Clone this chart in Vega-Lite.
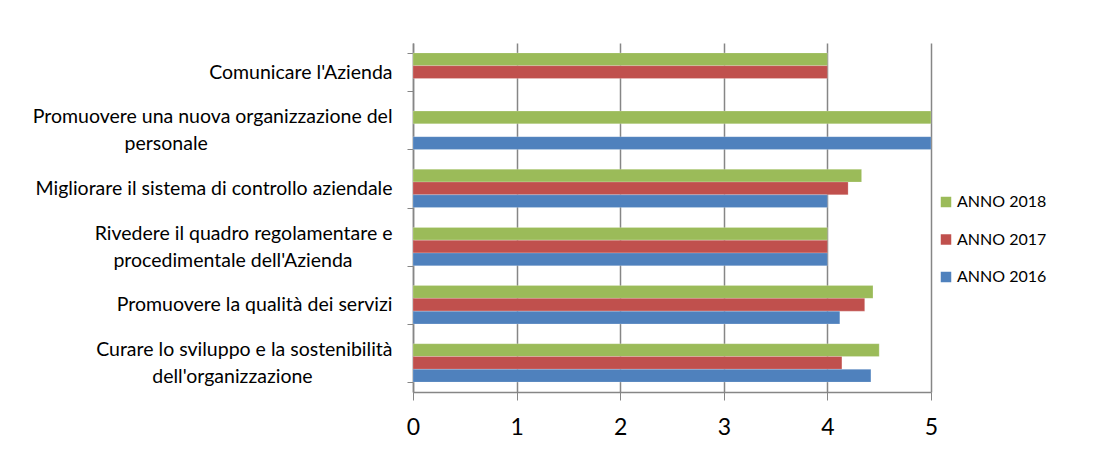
{
  "$schema": "https://vega.github.io/schema/vega-lite/v6.json",
  "autosize": "none",
  "width": 518,
  "height": 349,
  "padding": {"left": 413, "top": 43, "right": 165, "bottom": 57},
  "background": "white",
  "data": {
    "values": [
      {"cat": "Comunicare l'Azienda", "serie": "ANNO 2018", "v": 4},
      {"cat": "Comunicare l'Azienda", "serie": "ANNO 2017", "v": 4},
      {"cat": "Promuovere una nuova organizzazione del|personale", "serie": "ANNO 2018", "v": 5},
      {"cat": "Promuovere una nuova organizzazione del|personale", "serie": "ANNO 2016", "v": 5},
      {"cat": "Migliorare il sistema di controllo aziendale", "serie": "ANNO 2018", "v": 4.33},
      {"cat": "Migliorare il sistema di controllo aziendale", "serie": "ANNO 2017", "v": 4.2},
      {"cat": "Migliorare il sistema di controllo aziendale", "serie": "ANNO 2016", "v": 4},
      {"cat": "Rivedere il quadro regolamentare e|procedimentale dell'Azienda", "serie": "ANNO 2018", "v": 4},
      {"cat": "Rivedere il quadro regolamentare e|procedimentale dell'Azienda", "serie": "ANNO 2017", "v": 4},
      {"cat": "Rivedere il quadro regolamentare e|procedimentale dell'Azienda", "serie": "ANNO 2016", "v": 4},
      {"cat": "Promuovere la qualità dei servizi", "serie": "ANNO 2018", "v": 4.44},
      {"cat": "Promuovere la qualità dei servizi", "serie": "ANNO 2017", "v": 4.36},
      {"cat": "Promuovere la qualità dei servizi", "serie": "ANNO 2016", "v": 4.12},
      {"cat": "Curare lo sviluppo e la sostenibilità|dell'organizzazione", "serie": "ANNO 2018", "v": 4.5},
      {"cat": "Curare lo sviluppo e la sostenibilità|dell'organizzazione", "serie": "ANNO 2017", "v": 4.14},
      {"cat": "Curare lo sviluppo e la sostenibilità|dell'organizzazione", "serie": "ANNO 2016", "v": 4.42}
    ]
  },
  "mark": {"type": "bar", "stroke": "white", "strokeOpacity": 0.4, "strokeWidth": 0.5},
  "encoding": {
    "y": {
      "field": "cat",
      "type": "nominal",
      "sort": [
        "Comunicare l'Azienda",
        "Promuovere una nuova organizzazione del|personale",
        "Migliorare il sistema di controllo aziendale",
        "Rivedere il quadro regolamentare e|procedimentale dell'Azienda",
        "Promuovere la qualità dei servizi",
        "Curare lo sviluppo e la sostenibilità|dell'organizzazione"
      ],
      "scale": {"paddingInner": 0.34, "paddingOuter": 0.17},
      "axis": {
        "title": null,
        "labelExpr": "indexof(datum.label, '|') < 0 ? ['\u200b', datum.label] : [split(datum.label, '|')[0], '\u200b', split(datum.label, '|')[1] + (indexof(datum.label, 'Promuovere') >= 0 ? '\u00a0\u00a0\u00a0\u00a0\u00a0\u00a0\u00a0\u00a0\u00a0\u00a0\u00a0\u00a0\u00a0\u00a0\u00a0\u00a0\u00a0\u00a0\u00a0\u00a0\u00a0\u00a0\u00a0\u00a0\u00a0\u00a0\u00a0\u00a0\u00a0\u00a0\u00a0\u00a0\u00a0\u00a0\u00a0\u00a0\u00a0' : indexof(datum.label, 'Curare') >= 0 ? '\u00a0\u00a0\u00a0\u00a0\u00a0\u00a0\u00a0\u00a0\u00a0\u00a0\u00a0\u00a0\u00a0\u00a0\u00a0\u00a0' : '\u00a0\u00a0\u00a0\u00a0\u00a0\u00a0\u00a0\u00a0') + '\u200b']",
        "labelFont": "Lato",
        "labelFontSize": 19.5,
        "labelColor": "#000000",
        "labelLineHeight": 13.5,
        "labelOffset": -13.5,
        "labelPadding": 15,
        "labelLimit": 450,
        "tickBand": "extent",
        "tickSize": 6,
        "tickColor": "#868686",
        "domainColor": "#868686",
        "domainWidth": 1.5,
        "grid": false
      }
    },
    "yOffset": {
      "field": "serie",
      "type": "nominal",
      "sort": ["ANNO 2018", "ANNO 2017", "ANNO 2016"],
      "scale": {"paddingInner": 0, "paddingOuter": 0}
    },
    "x": {
      "field": "v",
      "type": "quantitative",
      "scale": {"domain": [0, 5], "nice": false},
      "axis": {
        "title": null,
        "values": [0, 1, 2, 3, 4, 5],
        "labelFont": "Lato",
        "labelFontSize": 23,
        "labelColor": "#000000",
        "labelPadding": 16,
        "labelFlush": false,
        "tickSize": 8,
        "tickColor": "#868686",
        "domainColor": "#868686",
        "domainWidth": 1.5,
        "gridColor": "#868686",
        "gridWidth": 1.5,
        "grid": true
      }
    },
    "color": {
      "field": "serie",
      "type": "nominal",
      "scale": {
        "domain": ["ANNO 2018", "ANNO 2017", "ANNO 2016"],
        "range": ["#9BBB59", "#C0504D", "#4F81BD"]
      },
      "legend": {
        "title": null,
        "orient": "none",
        "legendX": 525,
        "legendY": 151,
        "symbolType": "square",
        "symbolSize": 110,
        "symbolStrokeWidth": 0,
        "labelFont": "Lato",
        "labelFontSize": 16,
        "labelColor": "#000000",
        "rowPadding": 21.5,
        "labelOffset": 3
      }
    }
  },
  "config": {"view": {"stroke": null}}
}
